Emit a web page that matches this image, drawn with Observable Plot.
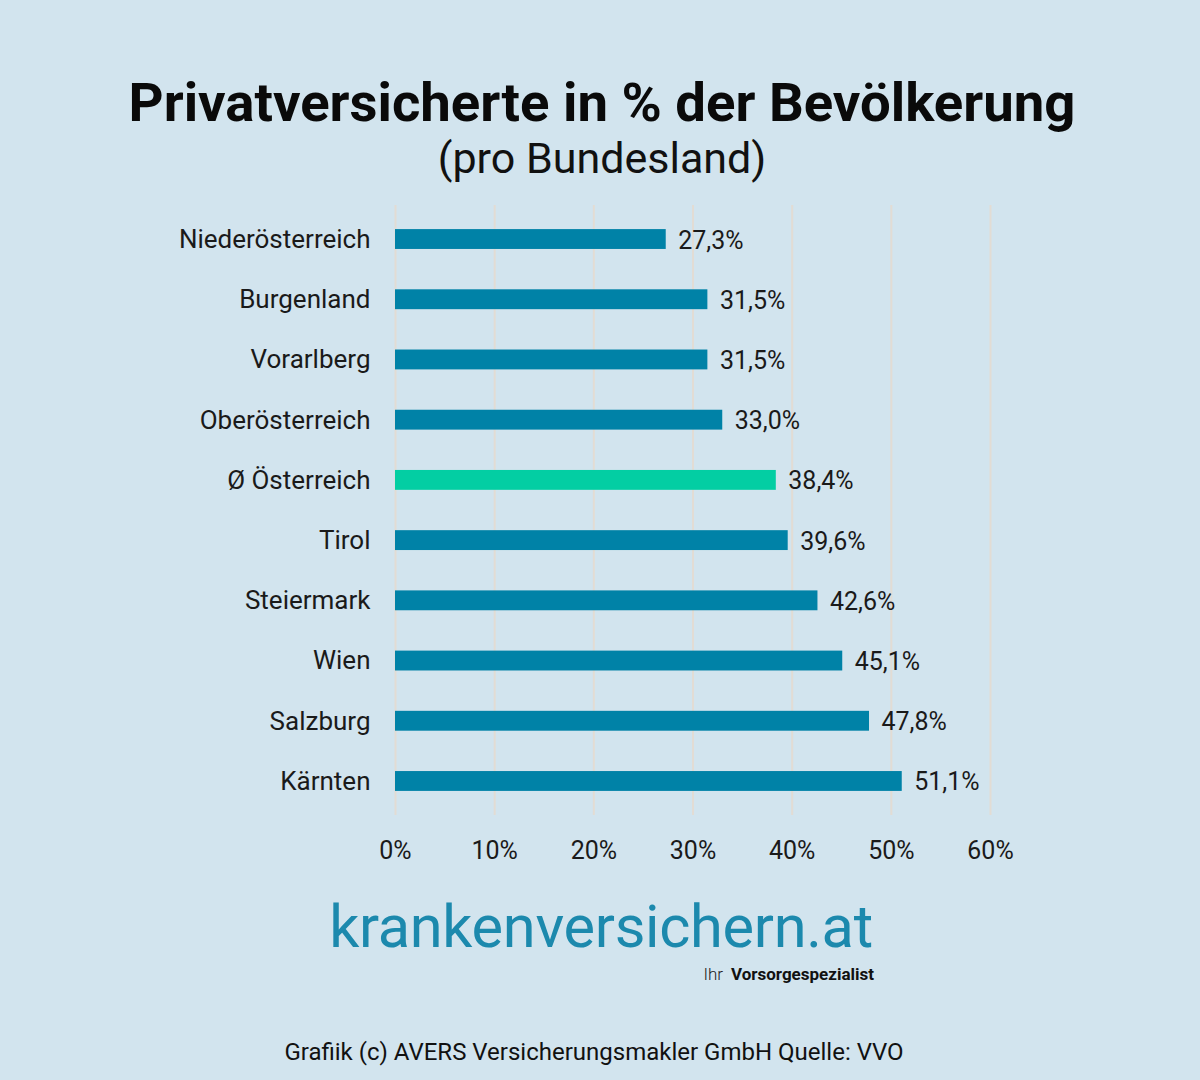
<!DOCTYPE html>
<html><head><meta charset="utf-8">
<script src="https://cdn.jsdelivr.net/npm/d3@7"></script>
<script src="https://cdn.jsdelivr.net/npm/@observablehq/plot@0.6"></script>
<style>
html,body{margin:0;padding:0;background:#d2e4ee;}
#wrap{position:relative;width:1200px;height:1080px;background:#d2e4ee;font-family:Roboto,"Noto Sans",sans-serif;overflow:hidden;}
#title{position:absolute;top:70px;left:0;width:1204px;text-align:center;font-weight:700;font-size:54.5px;line-height:64px;color:#0a0a0a;}
#subtitle{position:absolute;top:134px;left:0;width:1204px;text-align:center;font-size:43px;line-height:48px;color:#111;}
#chart{position:absolute;top:195px;left:0;}
#logo{position:absolute;top:898px;left:0;width:1202px;text-align:center;font-size:59.5px;line-height:58px;color:#1c89ad;letter-spacing:-0.3px;}
#ihr{position:absolute;top:965px;right:477px;font-size:17px;line-height:18px;color:#222;font-weight:300;}
#vs{position:absolute;top:965px;right:326px;font-size:17px;line-height:18px;color:#111;font-weight:700;}
#foot{position:absolute;top:1037px;left:0;width:1188px;text-align:center;font-size:24px;line-height:30px;color:#111;}
</style></head>
<body><div id="wrap">
<div id="title">Privatversicherte in % der Bevölkerung</div>
<div id="subtitle">(pro Bundesland)</div>
<div id="chart"></div>
<div id="logo">krankenversichern.at</div>
<div id="ihr">Ihr</div>
<div id="vs">Vorsorgespezialist</div>
<div id="foot">Grafiik (c) AVERS Versicherungsmakler GmbH Quelle: VVO</div>
</div>
<script>
const categories = ["Niederösterreich","Burgenland","Vorarlberg","Oberösterreich","Ø Österreich","Tirol","Steiermark","Wien","Salzburg","Kärnten"];
const values = [27.3,31.5,31.5,33.0,38.4,39.6,42.6,45.1,47.8,51.1];
const highlight = "Ø Österreich";
const xTicks = [0,10,20,30,40,50,60];

const data = categories.map((c,i)=>({cat:c, val:values[i]}));
const fmt = v => v.toFixed(1).replace(".", ",") + "%";

const chart = Plot.plot({
  width: 1200,
  height: 680,
  marginLeft: 395,
  marginRight: 210,
  marginTop: 10,
  marginBottom: 60,
  style: {background: "transparent", fontFamily: "Roboto, sans-serif", fontSize: "25px", color: "#1a1a1a"},
  x: {domain: [0, 60], ticks: xTicks, tickFormat: d => d + "%", tickSize: 0, tickPadding: 26, label: null, grid: false},
  y: {domain: categories, round: false, padding: 0.67, paddingOuter: 0.4, tickSize: 0, tickPadding: 25, label: null},
  marks: [
    Plot.ruleX(xTicks, {stroke: "#e2dcd4", strokeWidth: 2}),
    Plot.barX(data, {x: "val", y: "cat", fill: d => d.cat === highlight ? "#03cea3" : "#0082a7"}),
    Plot.text(data, {x: "val", y: "cat", text: d => fmt(d.val), textAnchor: "start", dx: 12, dy: 1, fill: "#1a1a1a", fontSize: 25}),
    Plot.axisY({tickSize: 0, tickPadding: 25, fontSize: 26, fill: "#1a1a1a", label: null}),
    Plot.axisX({ticks: xTicks, tickFormat: d => d + "%", tickSize: 0, tickPadding: 26, fontSize: 25, fill: "#1a1a1a", label: null})
  ]
});
document.getElementById("chart").appendChild(chart);
</script>
</body></html>
